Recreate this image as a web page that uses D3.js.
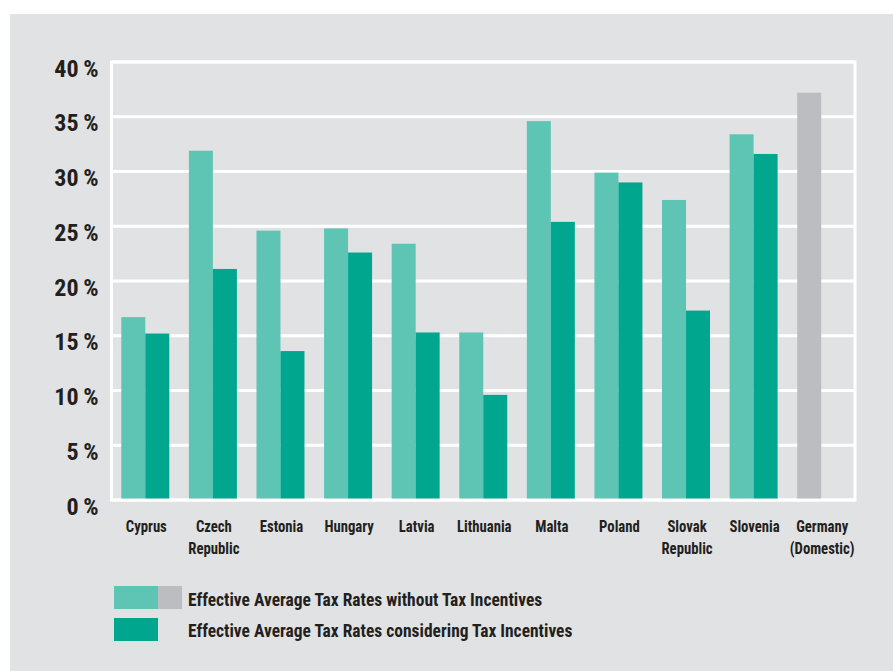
<!DOCTYPE html>
<html>
<head>
<meta charset="utf-8">
<script src="https://cdn.jsdelivr.net/npm/d3@7"></script>
<style>
  html, body { margin: 0; padding: 0; background: #ffffff; }
  svg { display: block; }
  text { font-family: "Liberation Sans Narrow", "Arial Narrow", "Roboto Condensed", sans-serif; font-weight: bold; fill: #231f20; }
</style>
</head>
<body>
<svg id="chart" width="893" height="671"></svg>
<script>
// Effective average tax rates by country, in percent
const countries = ["Cyprus", "Czech Republic", "Estonia", "Hungary", "Latvia", "Lithuania",
                   "Malta", "Poland", "Slovak Republic", "Slovenia", "Germany (Domestic)"];
const countryLines = [["Cyprus"], ["Czech", "Republic"], ["Estonia"], ["Hungary"], ["Latvia"],
                      ["Lithuania"], ["Malta"], ["Poland"], ["Slovak", "Republic"], ["Slovenia"],
                      ["Germany", "(Domestic)"]];
const withoutIncentives = [16.7, 31.9, 24.6, 24.8, 23.4, 15.3, 34.6, 29.9, 27.4, 33.4, 37.2];
const withIncentives    = [15.2, 21.1, 13.6, 22.6, 15.3, 9.6, 25.4, 29.0, 17.3, 31.6, null];
const yTicks = [0, 5, 10, 15, 20, 25, 30, 35, 40];
const legendLabels = ["Effective Average Tax Rates without Tax Incentives",
                      "Effective Average Tax Rates considering Tax Incentives"];

const colLight = "#5ec4b4", colDark = "#00a78e", colGrey = "#bcbdc0", panel = "#e1e2e4";
const squeeze = 0.92; // condensed look for the label type

const svg = d3.select("#chart");
svg.append("rect").attr("x", 10).attr("y", 14).attr("width", 883).attr("height", 657).attr("fill", panel);

const plot = { left: 111.5, right: 855, top: 62, bottom: 500 };

const x = d3.scaleBand().domain(countries).range([plot.left, plot.right]).paddingInner(0).paddingOuter(0);
const barW = x.bandwidth() * 0.355;
const groupOffset = (x.bandwidth() - 2 * barW) / 2;
const y = d3.scaleLinear().domain([0, 40]).range([plot.bottom, plot.top]);

// grid lines and frame
const g = svg.append("g");
g.selectAll("line.grid").data(yTicks).join("line")
  .attr("x1", plot.left).attr("x2", plot.right)
  .attr("y1", d => y(d)).attr("y2", d => y(d))
  .attr("stroke", "#ffffff").attr("stroke-width", 3);
g.append("rect")
  .attr("x", plot.left).attr("y", plot.top)
  .attr("width", plot.right - plot.left).attr("height", plot.bottom - plot.top)
  .attr("fill", "none").attr("stroke", "#ffffff").attr("stroke-width", 3);

// y-axis labels
const yAxis = d3.axisLeft(y).tickValues(yTicks).tickSize(0).tickPadding(0).tickFormat(d => d + "\u2009%");
const ya = svg.append("g").attr("transform", `translate(${plot.left - 13},0)`).call(yAxis);
ya.select(".domain").remove();
ya.selectAll("text").attr("font-size", 24).attr("dy", 14).attr("fill", "#231f20")
  .style("font-family", null);

// bars
const rows = countries.map((c, i) => ({ c, a: withoutIncentives[i], b: withIncentives[i], i }));
svg.append("g").selectAll("rect").data(rows).join("rect")
  .attr("x", d => x(d.c) + groupOffset)
  .attr("y", d => y(d.a))
  .attr("width", barW)
  .attr("height", d => y(0) - y(d.a) - 1.5)
  .attr("fill", d => d.b === null ? colGrey : colLight);
svg.append("g").selectAll("rect").data(rows.filter(d => d.b !== null)).join("rect")
  .attr("x", d => x(d.c) + groupOffset + barW)
  .attr("y", d => y(d.b))
  .attr("width", barW)
  .attr("height", d => y(0) - y(d.b) - 1.5)
  .attr("fill", colDark);

// category labels
const cat = svg.append("g").selectAll("text").data(rows).join("text")
  .attr("transform", d => `translate(${x(d.c) + x.bandwidth() / 2 + 1},532) scale(${squeeze},1)`)
  .attr("text-anchor", "middle")
  .attr("font-size", 16);
cat.selectAll("tspan").data(d => countryLines[d.i]).join("tspan")
  .attr("x", 0)
  .attr("dy", (d, i) => i === 0 ? 0 : 22)
  .text(d => d);

// legend
const lg = svg.append("g");
lg.append("rect").attr("x", 114).attr("y", 586).attr("width", 44).attr("height", 23).attr("fill", colLight);
lg.append("rect").attr("x", 158).attr("y", 586).attr("width", 24).attr("height", 23).attr("fill", colGrey);
lg.append("rect").attr("x", 114).attr("y", 618).attr("width", 44).attr("height", 23).attr("fill", colDark);
lg.selectAll("text").data(legendLabels).join("text")
  .attr("transform", (d, i) => `translate(188,${i === 0 ? 606 : 637}) scale(${squeeze},1)`)
  .attr("font-size", 19)
  .text(d => d);
</script>
</body>
</html>
